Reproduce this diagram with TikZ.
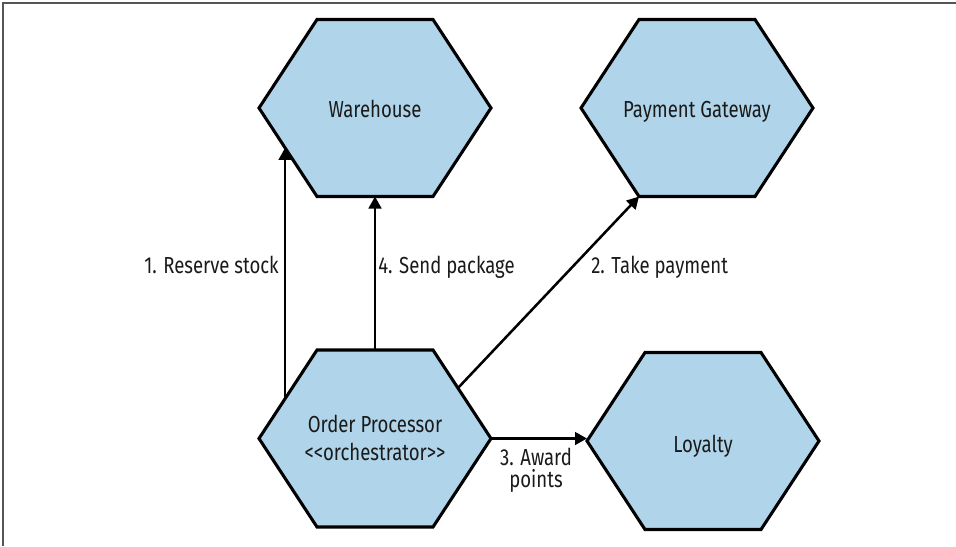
\documentclass[tikz,border=0pt]{standalone}
\usepackage{fontspec}
\setmainfont[FakeStretch=0.8]{Fira Sans}
\usetikzlibrary{calc,arrows.meta}
\definecolor{hexfill}{RGB}{176,212,234}
\definecolor{framegray}{RGB}{85,85,85}
\definecolor{txt}{RGB}{26,26,26}
\tikzset{
  hexstyle/.style={draw=black,fill=hexfill,line width=2.3pt,line join=miter},
  hextext/.style={text=txt,inner sep=0pt,font=\fontsize{17.4}{21}\selectfont,align=center},
  lbl/.style={text=txt,inner sep=0pt,font=\fontsize{17.4}{16.5}\selectfont,align=center},
  conn/.style={draw=black,line width=1.9pt,-{Triangle[length=9pt,width=9.5pt]}},
  framestyle/.style={draw=framegray,line width=1.5pt}
}
\newcommand\hexa[3]{%
  \coordinate (#1) at (#2,#3);
  \coordinate (#1-w) at ($(#1)+(-116,0)$);
  \coordinate (#1-e) at ($(#1)+(116,0)$);
  \coordinate (#1-nw) at ($(#1)+(-58,-88.5)$);
  \coordinate (#1-ne) at ($(#1)+(58,-88.5)$);
  \coordinate (#1-sw) at ($(#1)+(-58,88.5)$);
  \coordinate (#1-se) at ($(#1)+(58,88.5)$);
  \coordinate (#1-n) at ($(#1)+(0,-88.5)$);
  \coordinate (#1-s) at ($(#1)+(0,88.5)$);
  \draw[hexstyle] (#1-w) -- (#1-nw) -- (#1-ne) -- (#1-e) -- (#1-se) -- (#1-sw) -- cycle;
}
\begin{document}
\begin{tikzpicture}[x=0.75pt,y=-0.75pt]
\useasboundingbox (0,0) rectangle (956,546);
\draw[framestyle] (3,546) -- (3,3) -- (956,3);
\hexa{wh}{375}{108}
\hexa{pg}{697}{108}
\hexa{op}{375}{438.5}
\hexa{ly}{703}{441}
\node[hextext,anchor=base] (whl) at (375,117) {Warehouse};
\node[hextext,anchor=base] (pgl) at (697,117) {Payment Gateway};
\node[hextext,anchor=base] (opl) at (375,460) {Order Processor\\<{}<orchestrator>{}>};
\node[hextext,anchor=base] (lyl) at (703,452) {Loyalty};
\draw[conn] ($(op-w)!0.45!(op-nw)$) -- ($(wh-w)!0.45!(wh-sw)$);
\draw[conn] (op-n) -- (wh-s);
\draw[conn] ($(op-ne)!0.43!(op-e)$) -- (pg-sw);
\draw[conn] (op-e) -- (op-e -| ly-w);
\node[lbl,anchor=base east] (l1) at (279,273) {1. Reserve stock};
\node[lbl,anchor=base west] (l4) at (378,273) {4. Send package};
\node[lbl,anchor=base west] (l2) at (591,273) {2. Take payment};
\node[lbl,anchor=base] (l3) at (536,487) {3. Award\\points};
\end{tikzpicture}
\end{document}
